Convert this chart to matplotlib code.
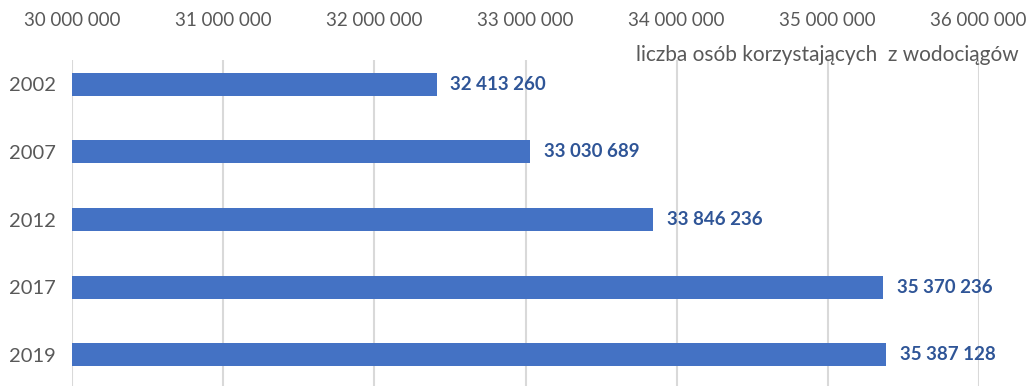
import matplotlib
matplotlib.use("Agg")
import matplotlib.pyplot as plt
from matplotlib.ticker import FuncFormatter

years = ["2002", "2007", "2012", "2017", "2019"]
users = [32413260, 33030689, 33846236, 35370236, 35387128]
x_ticks = [30000000, 31000000, 32000000, 33000000, 34000000, 35000000, 36000000]
axis_title = "liczba osób korzystających  z wodociągów"

BAR = "#4472C4"
LABEL = "#2F5597"
GREY = "#595959"
GRID = "#D9D9D9"

plt.rcParams["font.family"] = ["Lato", "DejaVu Sans"]


def spaced(v, pos=None):
    # thousands separated by spaces, Polish style
    return f"{int(v):,}".replace(",", " ")


fig = plt.figure(figsize=(10.31, 3.86), dpi=100)
ax = fig.add_axes([0.0703, 0.0, 0.8788, 0.845])

pos = list(range(len(years)))
ax.barh(pos, [u - x_ticks[0] for u in users], left=x_ticks[0], height=0.34,
        color=BAR, zorder=3)

for p, u in zip(pos, users):
    ax.text(u + 90000, p, spaced(u), va="center", ha="left",
            fontsize=13.5, fontweight="bold", color=LABEL, zorder=4)

ax.set_xlim(x_ticks[0], x_ticks[-1])
ax.set_ylim(4.46, -0.362)
ax.set_xticks(x_ticks)
ax.xaxis.set_major_formatter(FuncFormatter(spaced))
ax.xaxis.tick_top()
ax.tick_params(axis="x", length=0, pad=22, labelsize=13.5, labelcolor=GREY)
ax.set_yticks(pos)
ax.set_yticklabels(years)
ax.tick_params(axis="y", length=0, pad=12, labelsize=14.5, labelcolor=GREY)

ax.grid(axis="x", color=GRID, linewidth=1.5, zorder=0)
for s in ax.spines.values():
    s.set_visible(False)

fig.text(1019 / 1031, 1 - 55 / 386, axis_title, ha="right", va="center",
         fontsize=15, color=GREY)

fig.savefig("out.png", dpi=100)
